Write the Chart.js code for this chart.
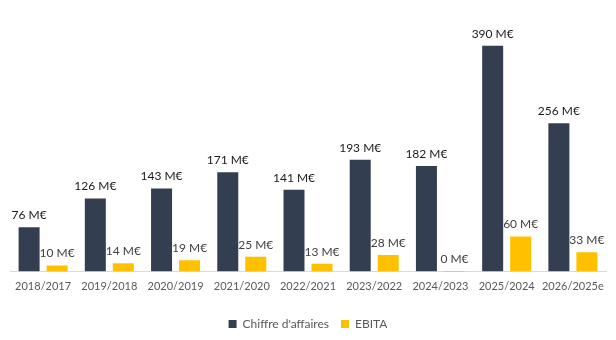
<!DOCTYPE html>
<html>
<head>
<meta charset="utf-8">
<script src="https://cdn.jsdelivr.net/npm/chart.js@4/dist/chart.umd.min.js"></script>
<style>
  html, body { margin: 0; padding: 0; background: #fff; }
  #wrap { width: 616px; height: 340px; }
</style>
</head>
<body>
<div id="wrap"><canvas id="c"></canvas></div>
<script>
// Values (M€)
var years = ['2018/2017', '2019/2018', '2020/2019', '2021/2020', '2022/2021', '2023/2022', '2024/2023', '2025/2024', '2026/2025e'];
var chiffreAffaires = [76, 126, 143, 171, 141, 193, 182, 390, 256];
var ebita = [10, 14, 19, 25, 13, 28, -0.4, 60, 33];

var FONT = 'Lato, "Open Sans", sans-serif';

// Draw "xx M€" above each bar
var valueLabels = {
    id: 'valueLabels',
    afterDatasetsDraw: function(chart) {
        var ctx = chart.ctx;
        ctx.save();
        ctx.font = '12px ' + FONT;
        ctx.textAlign = 'center';
        ctx.textBaseline = 'bottom';
        chart.data.datasets.forEach(function(ds, i) {
            var meta = chart.getDatasetMeta(i);
            ctx.fillStyle = i === 0 ? '#1a1a1a' : '#404040';
            meta.data.forEach(function(bar, j) {
                var top = Math.min(bar.y, bar.base);
                var txt = String(Math.round(ds.data[j]) || 0) + ' M€';
                ctx.fillText(txt, bar.x, top - 6);
            });
        });
        ctx.restore();
    }
};

new Chart(document.getElementById('c').getContext('2d'), {
    type: 'bar',
    data: {
        labels: years,
        datasets: [{
            label: "Chiffre d'affaires",
            data: chiffreAffaires,
            backgroundColor: '#333F50',
            categoryPercentage: 0.846,
            barPercentage: 0.75
        }, {
            label: 'EBITA',
            data: ebita,
            backgroundColor: '#FFC000',
            categoryPercentage: 0.846,
            barPercentage: 0.75,
            minBarLength: 2
        }]
    },
    options: {
        responsive: true,
        maintainAspectRatio: false,
        animation: false,
        layout: { padding: { left: 10, right: 10, top: 40, bottom: 0 } },
        plugins: {
            tooltip: { enabled: false },
            legend: {
                position: 'bottom',
                labels: {
                    boxWidth: 8,
                    boxHeight: 8,
                    color: '#595959',
                    font: { family: FONT, size: 12 },
                    padding: 12
                }
            }
        },
        scales: {
            x: {
                grid: { display: false, drawTicks: false },
                border: { color: '#D9D9D9' },
                ticks: { color: '#595959', font: { family: FONT, size: 11 }, maxRotation: 0, padding: 8 },
                afterFit: function(scale) { scale.height += 5; }
            },
            y: {
                display: false,
                min: -1,
                max: 400
            }
        }
    },
    plugins: [valueLabels]
});
</script>
</body>
</html>
